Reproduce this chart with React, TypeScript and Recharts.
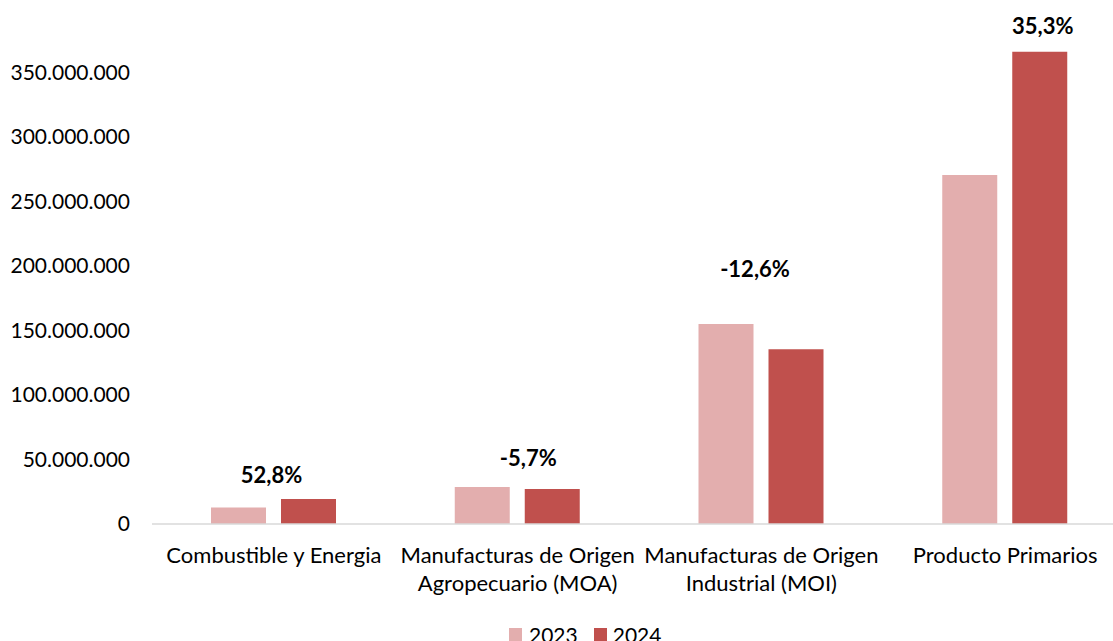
import React from 'react'
import {BarChart, Bar, XAxis, YAxis, LabelList} from 'recharts';

// exportaciones por rubro, 2023 vs 2024
const categories = [
  "Combustible y Energia",
  "Manufacturas de Origen\nAgropecuario (MOA)",
  "Manufacturas de Origen\nIndustrial (MOI)",
  "Producto Primarios",
];
const values2023 = [12700000, 28700000, 155000000, 270500000];
const values2024 = [19400000, 27100000, 135500000, 366000000];
const variation = ["52,8%", "-5,7%", "-12,6%", "35,3%"];
const yTicks = [0, 50000000, 100000000, 150000000, 200000000, 250000000, 300000000, 350000000];
const seriesNames = ["2023", "2024"];

const color2023 = "#E3AEAE";
const color2024 = "#C0504D";
const font = "Lato, 'Open Sans', sans-serif";

// where the variation labels sit, relative to the 2024 bar (center x, top y)
const labelShift = [[-37, -24], [-24, -32], [-41, -81], [3, -26]];

const data = categories.map((c, i) => ({
  name: c,
  v2023: values2023[i],
  v2024: values2024[i],
  pct: variation[i],
}));

const fmt = (v: number) => String(v).replace(/\B(?=(\d{3})+(?!\d))/g, ".");

const CategoryTick = (props: any) => {
  const {x, y, payload} = props;
  const lines = String(payload.value).split("\n");
  return <g>
    {lines.map((l, i) =>
      <text key={i} x={x} y={y + 39 + i * 28} textAnchor="middle"
            fill="#000" fontSize={22} fontFamily={font}>{l}</text>
    )}
  </g>;
};

const PctLabel = (props: any) => {
  const {x, y, width, index} = props;
  const s = labelShift[index];
  return <text x={x + width / 2 + s[0]} y={y + s[1]} textAnchor="middle" dominantBaseline="central"
               fontSize={22} fontWeight="bold" fontFamily={font} fill="#000">
    {variation[index]}
  </text>;
};

export default function App() {
  return <div style={{position: 'absolute', top: 0, left: 0, width: 1113, height: 641,
                      overflow: 'hidden', background: '#fff'}}>
    <BarChart width={1140} height={660} data={data}
              margin={{top: 8, right: 13, left: 0, bottom: 76}}
              barSize={55} barGap={15}>
      <XAxis dataKey="name" tick={<CategoryTick/>} tickLine={false} tickSize={0} tickMargin={0}
             axisLine={{stroke: "#D9D9D9", strokeWidth: 1.5}} interval={0} height={60}/>
      <YAxis width={152} domain={[0, 400000000]} ticks={yTicks} tickFormatter={fmt}
             axisLine={false} tickLine={false} tickSize={0} tickMargin={22}
             tick={{fill: "#000", fontSize: 21, fontFamily: font}}/>
      <Bar dataKey="v2023" name={seriesNames[0]} fill={color2023} isAnimationActive={false}/>
      <Bar dataKey="v2024" name={seriesNames[1]} fill={color2024} isAnimationActive={false}>
        <LabelList dataKey="pct" content={<PctLabel/>}/>
      </Bar>
    </BarChart>
    <div style={{position: 'absolute', top: 624, left: 509, display: 'flex', alignItems: 'center',
                 fontFamily: font, fontSize: 21, lineHeight: '21px', color: '#000'}}>
      <span style={{width: 13, height: 13, background: color2023, display: 'inline-block', marginRight: 7}}/>
      <span style={{marginRight: 16}}>{seriesNames[0]}</span>
      <span style={{width: 13, height: 13, background: color2024, display: 'inline-block', marginRight: 6}}/>
      <span>{seriesNames[1]}</span>
    </div>
  </div>;
}
